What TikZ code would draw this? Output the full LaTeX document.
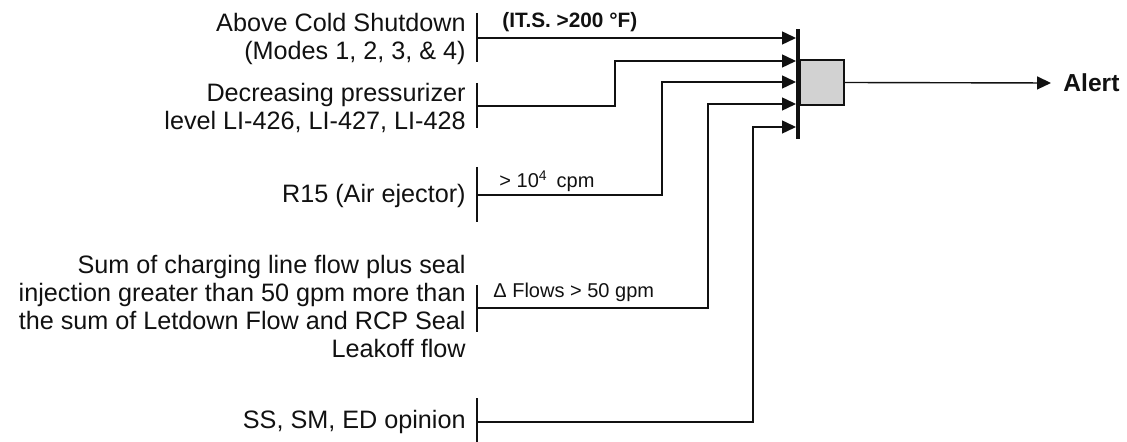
\documentclass[tikz,border=0pt]{standalone}
\usepackage{fontspec}
\setmainfont{Liberation Sans}
\usepackage{tikz}
\usetikzlibrary{arrows.meta,positioning,calc}
\definecolor{ink}{HTML}{111111}
\definecolor{gatefill}{HTML}{D2D2D2}
\tikzset{
  cond/.style={anchor=east,align=right,inner sep=0pt,font=\fontsize{12.6}{14}\selectfont,text=ink},
  tag/.style={anchor=west,inner sep=0pt,font=\fontsize{10}{12}\selectfont,text=ink},
  tick/.style={draw=ink,line width=1pt},
  sig/.style={draw=ink,line width=.7pt},
  sigarr/.style={sig,-{Triangle[length=7pt,width=6.5pt]}},
  orbar/.style={fill=ink,draw=none,inner sep=0pt,minimum width=1.6pt,minimum height=55pt},
  gatebox/.style={draw=ink,line width=.65pt,fill=gatefill,inner sep=0pt,minimum width=22pt,minimum height=22.5pt},
  outlbl/.style={anchor=west,inner sep=0pt,inner xsep=6pt,font=\fontsize{12.3}{14}\bfseries\selectfont,text=ink}
}
\begin{document}
\begin{tikzpicture}[x=.5pt,y=-.5pt]
\useasboundingbox (0,0) rectangle (1127,442);
\node[cond] (abv) at (466,39) {Above Cold Shutdown\\(Modes 1, 2, 3, \& 4)};
\node[cond] (prz) at (466,107.5) {Decreasing pressurizer\\level LI-426, LI-427, LI-428};
\node[cond] (rfifteen) at (466,196) {R15 (Air ejector)};
\node[cond] (chg) at (466,306) {Sum of charging line flow plus seal\\injection greater than 50 gpm more than\\the sum of Letdown Flow and RCP Seal\\Leakoff flow};
\node[cond] (ssop) at (466,422) {SS, SM, ED opinion};
\draw[tick] (477,13) -- (477,62);
\draw[tick] (477,83) -- (477,128);
\draw[tick] (477,167) -- (477,222);
\draw[tick] (477,285) -- (477,332);
\draw[tick] (477,398) -- (477,446);
\coordinate (t1) at (477,38);
\coordinate (t2) at (477,106);
\coordinate (t3) at (477,195);
\coordinate (t4) at (477,308);
\coordinate (t5) at (477,422);
\node[tag,font=\fontsize{10.4}{12}\bfseries\selectfont] (its) at (502,22) {(IT.S. >200 °F)};
\node[tag] (cpm) at (499,181) {> 10\textsuperscript{4}\hspace{.45em}cpm};
\node[tag] (dflow) at (493,292) {Δ Flows > 50 gpm};
\node[orbar] (bar) at (798,84) {};
\foreach \k/\y in {1/38,2/61,3/82,4/104,5/127}
  \coordinate (in\k) at (bar.west |- 0,\y);
\node[gatebox] (gate) at (822,82.5) {};
\node[outlbl] (alert) at (1051,83) {Alert};
\draw[sigarr] (t1) -- (in1);
\draw[sigarr] (t2) -| (in2 -| 615,0) -- (in2);
\draw[sigarr] (t3) -| (in3 -| 662,0) -- (in3);
\draw[sigarr] (t4) -| (in4 -| 708,0) -- (in4);
\draw[sigarr] (t5) -| (in5 -| 753,0) -- (in5);
\draw[sigarr] (gate.east) -- (alert.west);
\end{tikzpicture}
\end{document}
